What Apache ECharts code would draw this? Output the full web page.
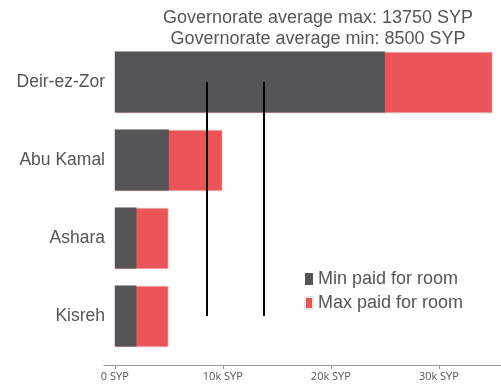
<!DOCTYPE html>
<html>
<head>
<meta charset="utf-8">
<script src="https://cdn.jsdelivr.net/npm/echarts@6/dist/echarts.min.js"></script>
<style>
  html, body { margin: 0; padding: 0; background: #fff; }
  #chart { width: 501px; height: 386px; }
</style>
</head>
<body>
<div id="chart"></div>
<script>
// Room prices by district (SYP)
const districts = ['Deir-ez-Zor', 'Abu Kamal', 'Ashara', 'Kisreh'];
const minPaid = [25000, 5000, 2000, 2000];
const maxPaid = [35000, 10000, 5000, 5000];
const tickValues = [0, 10000, 20000, 30000];
const tickLabels = ['0 SYP', '10k SYP', '20k SYP', '30k SYP'];
const avgMax = 13750;
const avgMin = 8500;

const chart = echarts.init(document.getElementById('chart'), null, { renderer: 'canvas' });

const textColor = '#555';
const fontFamily = '"Liberation Sans", Arial, sans-serif';

function avgLine(v) {
  return [
    { coord: [v, districts[0]] },
    { coord: [v, districts[districts.length - 1]] }
  ];
}

chart.setOption({
  animation: false,
  textStyle: { fontFamily: fontFamily },
  title: {
    text: 'Governorate average max: ' + avgMax + ' SYP\nGovernorate average min: ' + avgMin + ' SYP',
    left: 313,
    top: 3,
    textAlign: 'center',
    textStyle: {
      color: textColor,
      fontSize: 18,
      fontWeight: 'normal',
      lineHeight: 21,
      fontFamily: fontFamily
    }
  },
  legend: {
    orient: 'vertical',
    left: 299,
    top: 265,
    itemWidth: 8,
    itemHeight: 12,
    itemGap: 6,
    icon: 'rect',
    data: ['Min paid for room', 'Max paid for room'],
    textStyle: { color: textColor, fontSize: 18, fontFamily: fontFamily }
  },
  grid: { left: 104, right: 0, top: 43, bottom: 31, containLabel: false },
  xAxis: {
    type: 'value',
    min: -1000,
    max: 35750,
    offset: 10,
    splitLine: { show: false },
    axisLine: { show: true, lineStyle: { color: '#999', width: 1 } },
    axisTick: { show: true, length: 4, lineStyle: { color: '#999' }, customValues: tickValues },
    axisLabel: {
      color: textColor,
      fontSize: 11,
      margin: 6,
      fontFamily: '"Open Sans", sans-serif',
      customValues: tickValues,
      formatter: function (v) { return tickLabels[tickValues.indexOf(v)]; }
    }
  },
  yAxis: {
    type: 'category',
    data: districts,
    inverse: true,
    axisLine: { show: false, onZero: false },
    axisTick: { show: false },
    axisLabel: { color: textColor, fontSize: 17.5, margin: 0, fontFamily: fontFamily, align: 'right', padding: [0, -1, 0, 0] }
  },
  series: [
    {
      name: 'Max paid for room',
      type: 'bar',
      data: maxPaid,
      barWidth: 62,
      barGap: '-100%',
      itemStyle: { color: '#ec5557', borderColor: '#e8e8e8', borderWidth: 1 }
    },
    {
      name: 'Min paid for room',
      type: 'bar',
      data: minPaid,
      barWidth: 61,
      barGap: '-100%',
      itemStyle: { color: '#555557' },
      markLine: {
        silent: true,
        symbol: ['none', 'none'],
        label: { show: false },
        lineStyle: { color: '#000', width: 2, type: 'solid' },
        data: [avgLine(avgMin), avgLine(avgMax)]
      }
    }
  ]
});
</script>
</body>
</html>
